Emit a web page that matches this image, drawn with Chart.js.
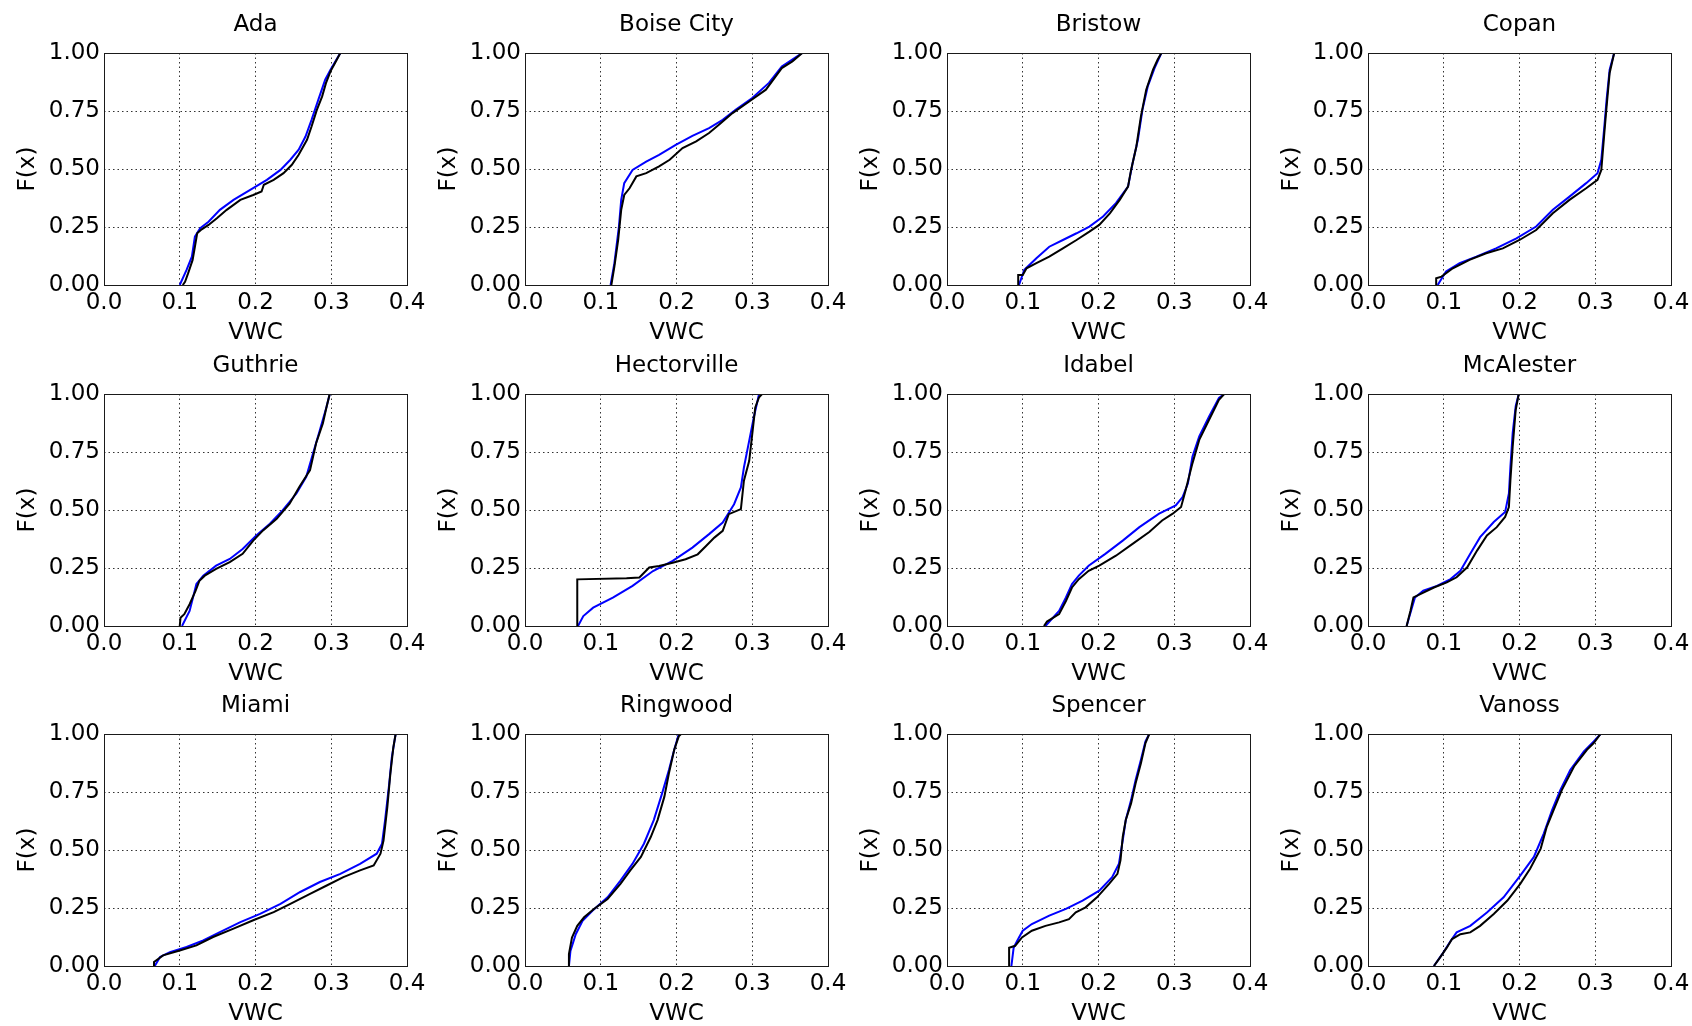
<!DOCTYPE html>
<html><head><meta charset="utf-8">
<script src="https://cdn.jsdelivr.net/npm/chart.js@4.4.1/dist/chart.umd.min.js"></script>
<style>
html,body{margin:0;padding:0;background:#fff;overflow:hidden;width:1692px;height:1026px;}
#wrap{position:relative;width:1692px;height:1026px;overflow:hidden;}
canvas{position:absolute;}
</style></head><body><div id="wrap"></div>
<script>
const stations = ["Ada","Boise City","Bristow","Copan","Guthrie","Hectorville","Idabel","McAlester","Miami","Ringwood","Spencer","Vanoss"];
const xTickValues = [0, 0.1, 0.2, 0.3, 0.4];
const xTickLabels = ["0.0","0.1","0.2","0.3","0.4"];
const yTickValues = [0, 0.25, 0.5, 0.75, 1];
const yTickLabels = ["0.00","0.25","0.50","0.75","1.00"];
const xAxisTitle = "VWC";
const yAxisTitle = "F(x)";

// [VWC, F(x)] pairs; black = observed, blue = model
const ada_observed = [[0.104,0],[0.107,0.014],[0.111,0.05],[0.117,0.108],[0.120,0.165],[0.123,0.223],[0.129,0.24],[0.138,0.259],[0.149,0.288],[0.162,0.324],[0.180,0.367],[0.197,0.388],[0.208,0.403],[0.211,0.432],[0.224,0.453],[0.237,0.482],[0.248,0.518],[0.257,0.561],[0.268,0.626],[0.274,0.683],[0.281,0.755],[0.288,0.813],[0.293,0.870],[0.299,0.921],[0.305,0.957],[0.312,1.0]];
const ada_model = [[0.100,0],[0.109,0.065],[0.116,0.122],[0.120,0.209],[0.127,0.245],[0.138,0.273],[0.153,0.324],[0.171,0.367],[0.193,0.41],[0.215,0.453],[0.233,0.496],[0.246,0.540],[0.257,0.583],[0.266,0.640],[0.274,0.712],[0.283,0.799],[0.292,0.885],[0.299,0.928],[0.312,1.0]];

const boise_observed = [[0.114,0],[0.118,0.079],[0.123,0.194],[0.127,0.324],[0.131,0.388],[0.138,0.417],[0.147,0.468],[0.160,0.482],[0.177,0.511],[0.191,0.540],[0.208,0.590],[0.226,0.619],[0.243,0.655],[0.256,0.691],[0.274,0.741],[0.296,0.791],[0.318,0.842],[0.339,0.935],[0.353,0.964],[0.366,1.0]];
const boise_model = [[0.113,0],[0.118,0.094],[0.124,0.252],[0.127,0.367],[0.131,0.439],[0.142,0.496],[0.160,0.532],[0.177,0.561],[0.199,0.604],[0.221,0.643],[0.243,0.676],[0.261,0.712],[0.278,0.755],[0.300,0.806],[0.322,0.871],[0.339,0.942],[0.366,1.0]];

const bristow_observed = [[0.094,0],[0.094,0.043],[0.100,0.043],[0.105,0.072],[0.118,0.094],[0.135,0.122],[0.153,0.158],[0.171,0.194],[0.188,0.230],[0.201,0.259],[0.215,0.309],[0.228,0.367],[0.239,0.424],[0.243,0.496],[0.250,0.597],[0.256,0.727],[0.263,0.842],[0.272,0.928],[0.278,0.971],[0.283,1.0],[0.288,1.0]];
const bristow_model = [[0.095,0],[0.102,0.065],[0.118,0.115],[0.135,0.165],[0.153,0.194],[0.171,0.223],[0.188,0.252],[0.206,0.295],[0.223,0.353],[0.239,0.424],[0.245,0.525],[0.252,0.626],[0.258,0.755],[0.265,0.856],[0.274,0.935],[0.283,1.0]];

const copan_observed = [[0.090,0],[0.090,0.029],[0.097,0.036],[0.112,0.072],[0.134,0.108],[0.156,0.137],[0.178,0.158],[0.200,0.194],[0.222,0.237],[0.244,0.309],[0.266,0.367],[0.288,0.417],[0.303,0.453],[0.308,0.496],[0.312,0.655],[0.315,0.770],[0.319,0.914],[0.325,1.0]];
const copan_model = [[0.092,0],[0.103,0.058],[0.121,0.094],[0.143,0.122],[0.169,0.158],[0.196,0.201],[0.222,0.252],[0.244,0.324],[0.266,0.381],[0.288,0.439],[0.303,0.482],[0.308,0.540],[0.312,0.683],[0.315,0.799],[0.319,0.928],[0.325,1.0]];

const guthrie_observed = [[0.100,0],[0.101,0.036],[0.106,0.051],[0.113,0.094],[0.121,0.152],[0.126,0.195],[0.133,0.217],[0.148,0.246],[0.166,0.275],[0.183,0.311],[0.197,0.368],[0.210,0.412],[0.228,0.462],[0.245,0.527],[0.258,0.600],[0.272,0.672],[0.280,0.788],[0.289,0.874],[0.294,0.947],[0.298,1.0]];
const guthrie_model = [[0.103,0],[0.113,0.065],[0.122,0.181],[0.131,0.217],[0.148,0.260],[0.166,0.289],[0.183,0.332],[0.201,0.390],[0.219,0.441],[0.236,0.499],[0.254,0.571],[0.267,0.643],[0.276,0.744],[0.285,0.845],[0.294,0.947],[0.298,1.0]];

const hectorville_observed = [[0.069,0],[0.069,0.201],[0.134,0.206],[0.151,0.209],[0.164,0.252],[0.177,0.259],[0.195,0.273],[0.212,0.288],[0.228,0.309],[0.239,0.345],[0.250,0.381],[0.261,0.410],[0.269,0.482],[0.285,0.504],[0.289,0.626],[0.296,0.712],[0.300,0.827],[0.304,0.942],[0.309,0.986],[0.313,1.0]];
const hectorville_model = [[0.070,0],[0.077,0.043],[0.090,0.079],[0.116,0.122],[0.142,0.173],[0.169,0.237],[0.195,0.281],[0.221,0.338],[0.243,0.396],[0.261,0.446],[0.276,0.525],[0.285,0.597],[0.289,0.683],[0.296,0.799],[0.302,0.899],[0.309,1.0]];

const idabel_observed = [[0.128,0],[0.132,0.019],[0.148,0.051],[0.157,0.108],[0.165,0.166],[0.174,0.202],[0.187,0.238],[0.201,0.260],[0.223,0.303],[0.245,0.354],[0.267,0.405],[0.284,0.455],[0.298,0.484],[0.309,0.513],[0.315,0.585],[0.324,0.701],[0.333,0.802],[0.346,0.889],[0.359,0.975],[0.366,1.0]];
const idabel_model = [[0.130,0],[0.148,0.065],[0.157,0.123],[0.165,0.181],[0.174,0.217],[0.187,0.260],[0.209,0.311],[0.232,0.368],[0.254,0.426],[0.280,0.484],[0.302,0.520],[0.311,0.556],[0.318,0.614],[0.324,0.730],[0.333,0.817],[0.346,0.903],[0.359,0.983],[0.366,1.0]];

const mcalester_observed = [[0.051,0],[0.056,0.065],[0.060,0.123],[0.069,0.137],[0.087,0.166],[0.104,0.188],[0.117,0.210],[0.131,0.253],[0.144,0.325],[0.157,0.390],[0.170,0.426],[0.181,0.470],[0.186,0.513],[0.188,0.629],[0.191,0.773],[0.195,0.932],[0.199,1.0]];
const mcalester_model = [[0.051,0],[0.058,0.079],[0.062,0.123],[0.073,0.152],[0.091,0.173],[0.109,0.202],[0.122,0.238],[0.135,0.311],[0.148,0.383],[0.166,0.448],[0.181,0.491],[0.186,0.571],[0.188,0.686],[0.191,0.831],[0.195,0.947],[0.199,1.0]];

const miami_observed = [[0.066,0],[0.066,0.017],[0.078,0.046],[0.100,0.067],[0.122,0.089],[0.144,0.125],[0.171,0.161],[0.197,0.197],[0.224,0.232],[0.246,0.268],[0.272,0.311],[0.294,0.347],[0.316,0.383],[0.338,0.412],[0.356,0.433],[0.365,0.484],[0.369,0.541],[0.374,0.684],[0.378,0.828],[0.382,0.943],[0.385,1.0]];
const miami_model = [[0.067,0],[0.074,0.039],[0.087,0.060],[0.109,0.082],[0.131,0.110],[0.153,0.146],[0.180,0.189],[0.206,0.225],[0.233,0.268],[0.259,0.319],[0.285,0.362],[0.312,0.397],[0.338,0.440],[0.360,0.484],[0.367,0.527],[0.371,0.627],[0.376,0.770],[0.380,0.900],[0.385,1.0]];

const ringwood_observed = [[0.057,0],[0.058,0.051],[0.062,0.123],[0.069,0.173],[0.078,0.210],[0.091,0.246],[0.109,0.289],[0.126,0.354],[0.139,0.412],[0.153,0.470],[0.166,0.556],[0.175,0.629],[0.184,0.730],[0.190,0.831],[0.197,0.932],[0.203,0.990],[0.206,1.0]];
const ringwood_model = [[0.058,0],[0.060,0.065],[0.067,0.137],[0.076,0.195],[0.089,0.238],[0.109,0.296],[0.126,0.368],[0.142,0.441],[0.157,0.527],[0.170,0.629],[0.181,0.744],[0.190,0.845],[0.197,0.932],[0.203,1.0]];

const spencer_observed = [[0.082,0],[0.082,0.079],[0.090,0.087],[0.099,0.123],[0.112,0.152],[0.130,0.173],[0.148,0.188],[0.161,0.202],[0.170,0.231],[0.183,0.253],[0.198,0.296],[0.214,0.354],[0.225,0.397],[0.229,0.455],[0.232,0.556],[0.236,0.629],[0.243,0.701],[0.249,0.788],[0.256,0.874],[0.262,0.961],[0.267,1.0]];
const spencer_model = [[0.085,0],[0.088,0.079],[0.095,0.123],[0.100,0.152],[0.112,0.181],[0.135,0.217],[0.157,0.246],[0.179,0.282],[0.201,0.325],[0.218,0.383],[0.227,0.441],[0.232,0.542],[0.236,0.629],[0.243,0.715],[0.249,0.802],[0.256,0.889],[0.262,0.968],[0.267,1.0]];

const vanoss_observed = [[0.087,0],[0.095,0.036],[0.104,0.079],[0.111,0.116],[0.122,0.137],[0.135,0.145],[0.148,0.173],[0.166,0.224],[0.184,0.282],[0.201,0.354],[0.214,0.419],[0.228,0.506],[0.236,0.600],[0.245,0.672],[0.256,0.759],[0.272,0.860],[0.289,0.932],[0.298,0.961],[0.307,1.0]];
const vanoss_model = [[0.087,0],[0.098,0.051],[0.109,0.108],[0.117,0.145],[0.135,0.173],[0.157,0.231],[0.179,0.296],[0.201,0.390],[0.219,0.470],[0.232,0.571],[0.243,0.672],[0.254,0.759],[0.267,0.845],[0.285,0.925],[0.298,0.968],[0.307,1.0]];

const observedSeries = [ada_observed, boise_observed, bristow_observed, copan_observed, guthrie_observed, hectorville_observed, idabel_observed, mcalester_observed, miami_observed, ringwood_observed, spencer_observed, vanoss_observed];
const modelSeries = [ada_model, boise_model, bristow_model, copan_model, guthrie_model, hectorville_model, idabel_model, mcalester_model, miami_model, ringwood_model, spencer_model, vanoss_model];

// layout (pixels)
const colLeft = [104, 525, 947, 1368];
const rowTop = [53, 394, 734];
const plotW = 303, plotH = 232;
const yAxisW = 104, titleH = 53, xAxisH = 62, rightPad = 40;
const FONT = "'DejaVu Sans', sans-serif";
const FSIZE = 23;

const framePlugin = {
  id: 'frame',
  afterDraw(chart) {
    const {ctx, chartArea: a} = chart;
    ctx.save();
    ctx.strokeStyle = '#1a1a1a';
    ctx.lineWidth = 1;
    ctx.strokeRect(Math.round(a.left) + 0.5, Math.round(a.top) + 0.5, Math.round(a.right - a.left), Math.round(a.bottom - a.top));
    ctx.restore();
  }
};

const wrap = document.getElementById('wrap');
stations.forEach((name, i) => {
  const r = Math.floor(i / 4), c = i % 4;
  const cv = document.createElement('canvas');
  cv.width = yAxisW + plotW + rightPad;
  cv.height = titleH + plotH + xAxisH;
  cv.style.left = (colLeft[c] - yAxisW) + 'px';
  cv.style.top = (rowTop[r] - titleH) + 'px';
  cv.style.width = cv.width + 'px';
  cv.style.height = cv.height + 'px';
  wrap.appendChild(cv);
  const font = {family: FONT, size: FSIZE, weight: 'normal'};
  new Chart(cv, {
    type: 'scatter',
    data: {
      datasets: [
        {label: 'Observed', data: observedSeries[i].map(p => ({x: p[0], y: p[1]})), showLine: true, borderColor: '#000000', borderWidth: 2, pointRadius: 0, tension: 0, fill: false},
        {label: 'Model', data: modelSeries[i].map(p => ({x: p[0], y: p[1]})), showLine: true, borderColor: '#0000ff', borderWidth: 2, pointRadius: 0, tension: 0, fill: false}
      ]
    },
    options: {
      responsive: false, animation: false, devicePixelRatio: 1,
      layout: {padding: {left: 0, top: 0, right: rightPad, bottom: 0}},
      plugins: {
        legend: {display: false}, tooltip: {enabled: false},
        title: {display: true, fullSize: false, text: name, font: font, color: '#000', padding: {top: 11.2, bottom: 14.2}}
      },
      scales: {
        x: {
          type: 'linear', min: 0, max: 0.4,
          afterBuildTicks: s => { s.ticks = xTickValues.map(v => ({value: v})); },
          afterFit: s => { s.height = xAxisH; s.paddingLeft = 0; s.paddingRight = 0; },
          ticks: {callback: (v, k) => xTickLabels[k], font: font, color: '#000', padding: 4, maxRotation: 0, autoSkip: false},
          grid: {color: '#333', lineWidth: 1, drawTicks: false},
          border: {display: false, dash: [1.5, 3]},
          title: {display: true, text: xAxisTitle, font: font, color: '#000', padding: {top: 0, bottom: 0}}
        },
        y: {
          type: 'linear', min: 0, max: 1,
          afterBuildTicks: s => { s.ticks = yTickValues.map(v => ({value: v})); },
          afterFit: s => { s.width = yAxisW; s.paddingTop = 0; s.paddingBottom = 0; },
          ticks: {callback: (v, k) => yTickLabels[k], font: font, color: '#000', padding: 4, autoSkip: false},
          grid: {color: '#333', lineWidth: 1, drawTicks: false},
          border: {display: false, dash: [1.5, 3]},
          title: {display: true, text: yAxisTitle, font: font, color: '#000', padding: {top: 14, bottom: 0}}
        }
      }
    },
    plugins: [framePlugin]
  });
});
</script></body></html>
